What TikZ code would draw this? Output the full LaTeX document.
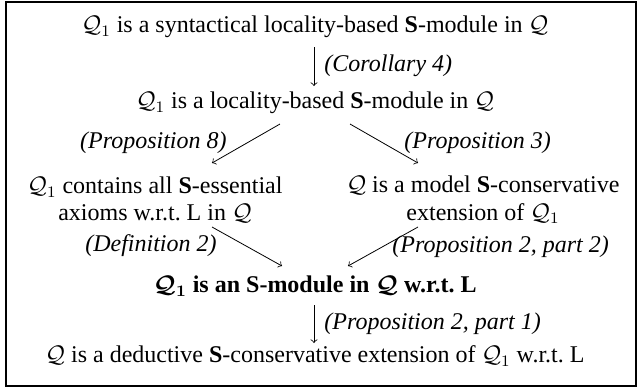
\documentclass[tikz,border=0pt]{standalone}
\usepackage{fontspec}
\setmainfont{Liberation Serif}
\begin{document}
\begin{tikzpicture}[x=0.5pt,y=-0.5pt,
  txt/.style={inner sep=0pt,font=\fontsize{12}{13.6}\selectfont,align=center},
  lbl/.style={inner sep=0pt,font=\fontsize{12}{13.6}\selectfont\itshape},
  arr/.style={->,line width=0.4pt}]
\useasboundingbox (0,0) rectangle (637,387);
\draw[line width=0.6pt] (6,2) rectangle (636,386);
\node[txt] (n1) at (315,27) {$\mathcal{Q}_1$ is a syntactical locality-based \textbf{S}-module in $\mathcal{Q}$};
\node[txt] (n2) at (315,103) {$\mathcal{Q}_1$ is a locality-based \textbf{S}-module in $\mathcal{Q}$};
\node[txt] (nl) at (155,200) {$\mathcal{Q}_1$ contains all \textbf{S}-essential\\axioms w.r.t.\ L in $\mathcal{Q}$};
\node[txt] (nr) at (483,200) {$\mathcal{Q}$ is a model \textbf{S}-conservative\\extension of $\mathcal{Q}_1$};
\node[txt,font=\fontsize{12}{13.6}\selectfont\bfseries\boldmath] (n3) at (315,286) {$\mathcal{Q}_1$ is an S-module in $\mathcal{Q}$ w.r.t.\ L};
\node[txt] (n4) at (315,356) {$\mathcal{Q}$ is a deductive \textbf{S}-conservative extension of $\mathcal{Q}_1$ w.r.t.\ L};
% arrow end points
\coordinate (a1s) at (314,47);  \coordinate (a1e) at (314,86);
\coordinate (a2s) at (280,124); \coordinate (a2e) at (212,163);
\coordinate (a3s) at (350,124); \coordinate (a3e) at (418,163);
\coordinate (a4s) at (212,227); \coordinate (a4e) at (282,266);
\coordinate (a5s) at (418,227); \coordinate (a5e) at (348,266);
\coordinate (a6s) at (314,305); \coordinate (a6e) at (314,343);
\draw[arr] (a1s) -- (a1e);
\draw[arr] (a2s) -- (a2e);
\draw[arr] (a3s) -- (a3e);
\draw[arr] (a4s) -- (a4e);
\draw[arr] (a5s) -- (a5e);
\draw[arr] (a6s) -- (a6e);
\node[lbl,anchor=west] (l1) at (324,66) {(Corollary 4)};
\node[lbl,anchor=east] (l2) at (227,143) {(Proposition 8)};
\node[lbl,anchor=west] (l3) at (404,143) {(Proposition 3)};
\node[lbl,anchor=east] (l4) at (217,246) {(Definition 2)};
\node[lbl,anchor=west] (l5) at (392,247) {(Proposition 2, part 2)};
\node[lbl,anchor=west] (l6) at (324,324) {(Proposition 2, part 1)};
\end{tikzpicture}
\end{document}
